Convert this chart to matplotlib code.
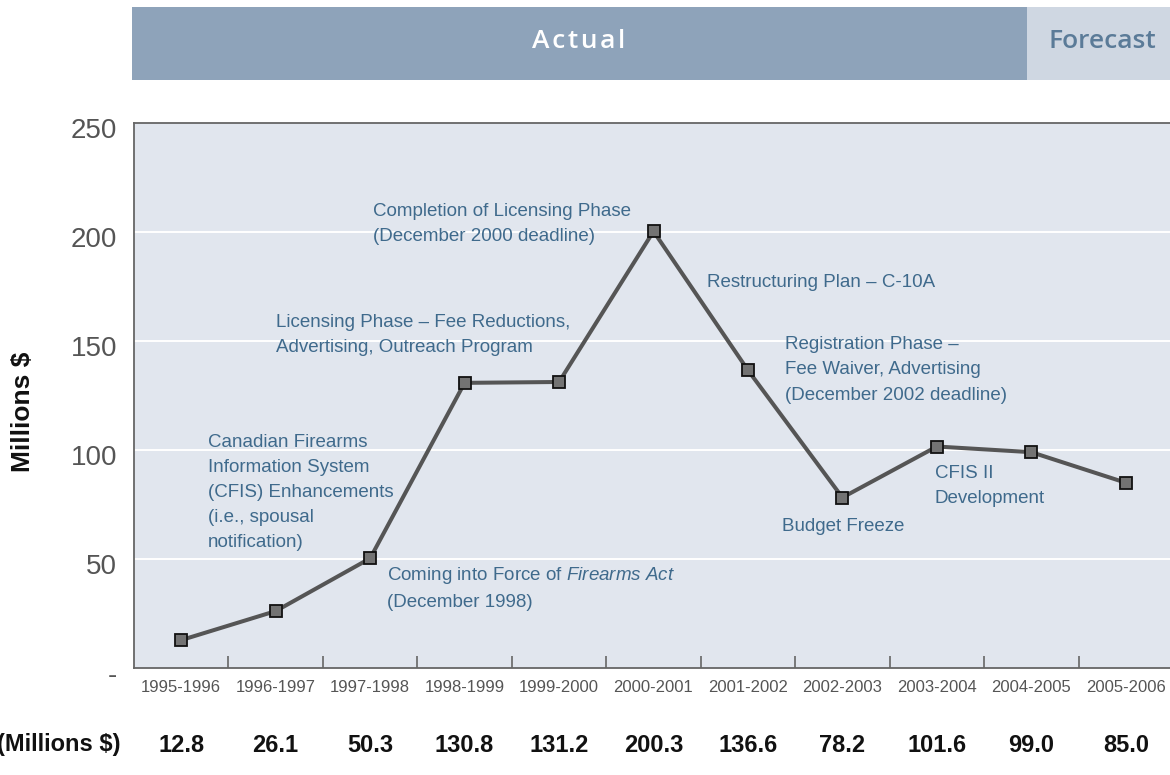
import matplotlib
matplotlib.use("Agg")
import matplotlib.pyplot as plt
import matplotlib.transforms as mtransforms
from matplotlib.patches import Rectangle

# ---------------- data ----------------
fiscal_years = ["1995-1996", "1996-1997", "1997-1998", "1998-1999", "1999-2000",
                "2000-2001", "2001-2002", "2002-2003", "2003-2004", "2004-2005",
                "2005-2006"]
spending = [12.8, 26.1, 50.3, 130.8, 131.2, 200.3, 136.6, 78.2, 101.6, 99.0, 85.0]
spending_labels = ["12.8", "26.1", "50.3", "130.8", "131.2", "200.3", "136.6",
                   "78.2", "101.6", "99.0", "85.0"]
y_ticks = [0, 50, 100, 150, 200, 250]
y_tick_labels = ["-", "50", "100", "150", "200", "250"]
banner_labels = ["Actual", "Forecast"]
row_label = "(Millions $)"
y_label = "Millions $"
notes = [
    "Canadian Firearms\nInformation System\n(CFIS) Enhancements\n(i.e., spousal\nnotification)",
    "Coming into Force of $\\mathit{Firearms\\ Act}$\n(December 1998)",
    "Licensing Phase \u2013 Fee Reductions,\nAdvertising, Outreach Program",
    "Completion of Licensing Phase\n(December 2000 deadline)",
    "Restructuring Plan \u2013 C-10A",
    "Registration Phase \u2013\nFee Waiver, Advertising\n(December 2002 deadline)",
    "Budget Freeze",
    "CFIS II\nDevelopment",
]

# ---------------- style ----------------
BASE = ["Liberation Sans", "DejaVu Sans"]
BANNER = ["Open Sans", "DejaVu Sans"]
plt.rcParams["font.family"] = BASE
plt.rcParams["mathtext.fontset"] = "custom"
plt.rcParams["mathtext.rm"] = "Liberation Sans"
plt.rcParams["mathtext.it"] = "Liberation Sans:italic"

W, H = 1170, 775
fig = plt.figure(figsize=(W / 100, H / 100), dpi=100)

def fx(px):
    return px / W

def fy(py):
    return 1 - py / H

# axes placement (pixels)
ax_left, ax_right, ax_top, ax_bot = 134, 1173, 123, 668
ax = fig.add_axes([fx(ax_left), fy(ax_bot), fx(ax_right - ax_left), (ax_bot - ax_top) / H])
ax.set_facecolor("#e1e6ee")

x = list(range(len(fiscal_years)))
ax.set_xlim(-0.5, len(fiscal_years) - 0.5)
ax.set_ylim(0, 250)

# gridlines
for yt in y_ticks[1:-1]:
    ax.axhline(yt, color="white", lw=1.4, zorder=1)

ax.plot(x, spending, color="#555555", lw=2.9, zorder=3,
        marker="s", markersize=9, markerfacecolor="#737373",
        markeredgecolor="#111111", markeredgewidth=1.3, solid_capstyle="round")

# spines
for s in ["left", "top", "bottom"]:
    ax.spines[s].set_color("#666666")
    ax.spines[s].set_linewidth(1.3)
ax.spines["right"].set_visible(False)

# x ticks: major at boundaries (marks), minor at centers (labels)
ax.set_xticks([i + 0.5 for i in x[:-1]])
ax.set_xticklabels([])
ax.tick_params(axis="x", which="major", direction="in", length=9, width=1.2,
               color="#666666")
ax.set_xticks(x, minor=True)
ax.set_xticklabels(fiscal_years, minor=True)
ax.tick_params(axis="x", which="minor", length=0, pad=9, labelsize=12,
               labelcolor="#555555")

# y ticks
ax.set_yticks(y_ticks)
ax.set_yticklabels(y_tick_labels)
ax.tick_params(axis="y", length=0, pad=12, labelsize=20, labelcolor="#555555")
off = mtransforms.ScaledTranslation(0, -5 / 100, fig.dpi_scale_trans)
for lab in ax.get_yticklabels():
    lab.set_transform(lab.get_transform() + off)

# y label
fig.text(fx(23), fy(412), y_label, rotation=90, ha="center", va="center",
         fontsize=19, fontweight="bold", color="#111111")

# annotations (positions in data coords)
note_pos = [
    (0.286, 80.5), (2.18, 36.7), (1.005, 152.8), (2.03, 203.7),
    (5.566, 177.0), (6.39, 136.7), (6.36, 64.7), (7.98, 83.5),
]
for txt, (nx, ny) in zip(notes, note_pos):
    ax.text(nx, ny, txt, ha="left", va="center", fontsize=13.5,
            color="#3f6a8c", linespacing=1.62, zorder=4)

# bottom row of values
fig.text(fx(121), fy(745), row_label, ha="right", va="center", fontsize=17,
         fontweight="bold", color="#111111")
row_tr = mtransforms.blended_transform_factory(ax.transData, fig.transFigure)
for xi, lab in zip(x, spending_labels):
    ax.text(xi, fy(745), lab, transform=row_tr, fontsize=17, fontweight="bold",
            color="#111111", ha="center", va="center", clip_on=False)

# banner
fig.patches.append(Rectangle((fx(132), fy(80)), fx(1027 - 132), (80 - 7) / H,
                             transform=fig.transFigure, facecolor="#8ea3ba",
                             edgecolor="none", zorder=0))
fig.patches.append(Rectangle((fx(1027), fy(80)), fx(1170 - 1027), (80 - 7) / H,
                             transform=fig.transFigure, facecolor="#cfd7e2",
                             edgecolor="none", zorder=0))
fig.text(fx(579), fy(41), "\u200a".join(banner_labels[0]), ha="center", va="center",
         fontsize=19, fontweight="semibold", family=BANNER, color="white")
fig.text(fx(1102), fy(41), banner_labels[1], ha="center", va="center",
         fontsize=19, fontweight="semibold", family=BANNER, color="#5b7b98")

fig.savefig("out.png", dpi=100)
